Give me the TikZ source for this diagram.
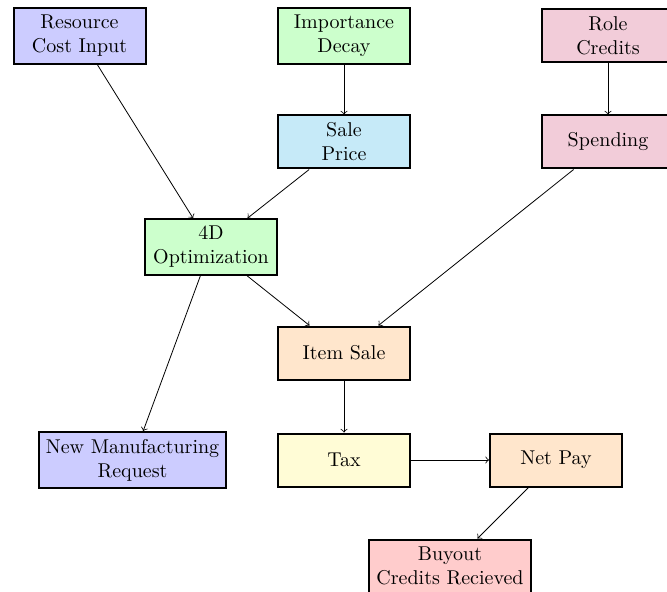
\documentclass[tikz,border=0pt]{standalone}
\usetikzlibrary{arrows}
\definecolor{cblue}{RGB}{204,204,255}
\definecolor{cgreen}{RGB}{204,255,204}
\definecolor{cpink}{RGB}{242,204,217}
\definecolor{csky}{RGB}{198,234,248}
\definecolor{cpeach}{RGB}{255,230,204}
\definecolor{cyell}{RGB}{255,252,214}
\definecolor{cred}{RGB}{255,204,204}
\begin{document}
\begin{tikzpicture}[x=0.5pt,y=-0.5pt,
  box/.style={draw=black,line width=1pt,rectangle,align=center,minimum width=66pt,minimum height=26.5pt,inner sep=3.5pt},
  conn/.style={->,thin}]
\useasboundingbox (0,0) rectangle (667,592);
\node[box,fill=cblue]  (rci) at (79.5,36) {Resource\\Cost Input};
\node[box,fill=cgreen] (imp) at (344,36) {Importance\\Decay};
\node[box,fill=cpink]  (role) at (608,36) {Role\\Credits};
\node[box,fill=csky]   (sale) at (344,142) {Sale\\Price};
\node[box,fill=cpink]  (spend) at (608,142) {Spending};
\node[box,fill=cgreen] (opt) at (211,247) {4D\\Optimization};
\node[box,fill=cpeach] (item) at (344,353) {Item Sale};
\node[box,fill=cblue]  (nmr) at (132.5,460) {New Manufacturing\\Request};
\node[box,fill=cyell]  (tax) at (344,460) {Tax};
\node[box,fill=cpeach] (net) at (556,460) {Net Pay};
\node[box,fill=cred]   (buy) at (450,566) {Buyout\\Credits Recieved};
\draw[conn] (rci) -- (opt);
\draw[conn] (imp) -- (sale);
\draw[conn] (sale) -- (opt);
\draw[conn] (role) -- (spend);
\draw[conn] (spend) -- (item);
\draw[conn] (opt) -- (item);
\draw[conn] (opt) -- (nmr);
\draw[conn] (item) -- (tax);
\draw[conn] (tax) -- (net);
\draw[conn] (net) -- (buy);
\end{tikzpicture}
\end{document}
